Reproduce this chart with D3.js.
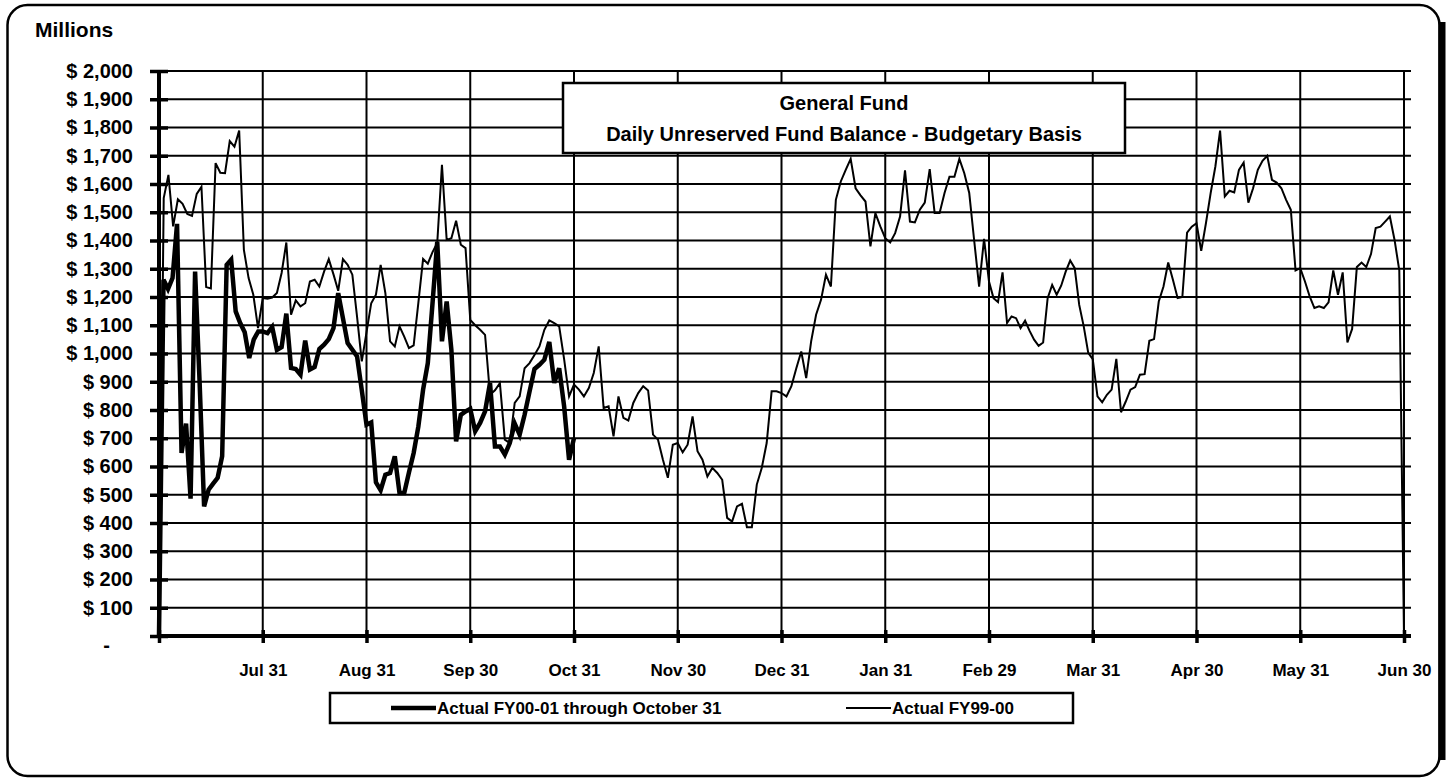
<!DOCTYPE html>
<html>
<head>
<meta charset="utf-8">
<script src="https://cdn.jsdelivr.net/npm/d3@7"></script>
<style>
  body { margin: 0; background: #fff; }
  svg { display: block; }
  text { font-family: "Liberation Sans", Arial, sans-serif; font-weight: bold; fill: #000; }
</style>
</head>
<body>
<svg id="chart" width="1447" height="781"></svg>
<script>
// month-end labels on the x axis
const monthLabels = ["Jul 31", "Aug 31", "Sep 30", "Oct 31", "Nov 30", "Dec 31",
                     "Jan 31", "Feb 29", "Mar 31", "Apr 30", "May 31", "Jun 30"];
const yTicks = [0, 100, 200, 300, 400, 500, 600, 700, 800, 900, 1000,
                1100, 1200, 1300, 1400, 1500, 1600, 1700, 1800, 1900, 2000];

// Actual FY99-00, daily balance ($ millions), one array per month
const openFY9900 = 0;
const fy9900Jul = [1550,1632,1450,1546,1530,1494,1487,1565,1590,1235,1230,1674,1640,1638,1752,1732,1789,1367,1267,1208,1090,1196];
const fy9900Aug = [1194,1198,1214,1285,1393,1137,1188,1167,1178,1255,1261,1237,1290,1334,1280,1222,1334,1314,1279,1130,972,1075];
const fy9900Sep = [1178,1208,1314,1214,1043,1025,1096,1060,1019,1029,1180,1335,1318,1359,1391,1668,1402,1408,1470,1385,1373,1119];
const fy9900Oct = [1100,1084,1066,854,870,895,695,683,825,848,948,966,995,1025,1084,1117,1108,1096,980,848,890];
const fy9900Nov = [872,848,878,931,1025,807,813,707,848,772,763,825,860,884,869,713,695,624,560,677,683];
const fy9900Dec = [650,677,777,654,624,565,595,577,553,418,405,459,468,385,385,536,595,683,866,866,860];
const fy9900Jan = [848,884,948,1007,913,1043,1137,1190,1279,1237,1544,1609,1650,1689,1585,1560,1538,1379,1497,1450,1408];
const fy9900Feb = [1393,1426,1485,1648,1467,1464,1509,1534,1653,1497,1497,1568,1626,1626,1689,1638,1568,1400,1237,1406,1255];
const fy9900Mar = [1196,1182,1287,1108,1131,1125,1090,1116,1080,1049,1027,1039,1196,1243,1208,1240,1290,1329,1302,1172,1096,1002,980];
const fy9900Apr = [848,827,854,872,981,792,830,872,881,925,927,1045,1051,1184,1237,1322,1261,1196,1200,1428,1449,1461];
const fy9900May = [1363,1461,1568,1662,1789,1556,1576,1570,1650,1676,1534,1585,1650,1682,1700,1615,1605,1585,1544,1509,1294,1302];
const fy9900Jun = [1255,1202,1161,1167,1161,1181,1294,1208,1287,1039,1087,1306,1322,1306,1352,1444,1449,1467,1485,1402,1294,0];

// Actual FY00-01 through October 31
const openFY0001 = 0;
const fy0001Jul = [1261,1228,1267,1459,648,752,486,1290,900,459,518,539,560,636,1314,1332,1149,1108,1075,984,1049,1078,1078];
const fy0001Aug = [1072,1094,1013,1023,1141,949,945,925,1046,943,952,1016,1031,1051,1090,1214,1125,1037,1013,990,870,748];
const fy0001Sep = [756,544,516,571,577,636,506,506,579,648,742,872,966,1178,1396,1043,1184,1013,689,783,795,804];
const fy0001Oct = [725,754,795,896,671,671,642,683,752,713,783,865,945,960,978,1041,896,948,813,624,701];

const titleLines = ["General Fund", "Daily Unreserved Fund Balance - Budgetary Basis"];
const legendLabels = ["Actual FY00-01 through October 31", "Actual FY99-00"];

// spread each month's values across its slot, last value on the month-end tick
function toPoints(opening, monthArrays) {
    let pts = [[0, opening]];
    monthArrays.forEach(function(vals, m) {
        vals.forEach(function(v, i) { pts.push([m + (i + 1) / vals.length, v]); });
    });
    return pts;
}

const thinPts = toPoints(openFY9900, [fy9900Jul, fy9900Aug, fy9900Sep, fy9900Oct, fy9900Nov, fy9900Dec,
                                     fy9900Jan, fy9900Feb, fy9900Mar, fy9900Apr, fy9900May, fy9900Jun]);
const thickPts = toPoints(openFY0001, [fy0001Jul, fy0001Aug, fy0001Sep, fy0001Oct]);

let svg = d3.select("#chart");

let plotLeft = 159, plotRight = 1404, gridRight = 1411, plotTop = 71, plotBottom = 636;

let x = d3.scaleLinear().domain([0, 12]).range([plotLeft, plotRight]);
let y = d3.scaleLinear().domain([0, 2000]).range([plotBottom, plotTop]);

// outer frame with heavier right edge
svg.append("rect")
    .attr("x", 7.5).attr("y", 5).attr("width", 1432).attr("height", 771)
    .attr("rx", 20).attr("fill", "#fff").attr("stroke", "#000").attr("stroke-width", 2.5);
svg.append("line")
    .attr("x1", 1442).attr("x2", 1442).attr("y1", 22).attr("y2", 760)
    .attr("stroke", "#000").attr("stroke-width", 7);

svg.append("text").attr("x", 35).attr("y", 37).style("font-size", "21px").text("Millions");

// horizontal grid
svg.append("g").selectAll("line").data(yTicks).enter().append("line")
    .attr("x1", plotLeft).attr("x2", gridRight)
    .attr("y1", d => y(d)).attr("y2", d => y(d))
    .attr("stroke", "#000").attr("stroke-width", 2);

// vertical grid at month ends
svg.append("g").selectAll("line").data(d3.range(1, 13)).enter().append("line")
    .attr("x1", d => x(d)).attr("x2", d => x(d))
    .attr("y1", plotTop).attr("y2", plotBottom)
    .attr("stroke", "#000").attr("stroke-width", 2);

// y axis with ticks crossing the axis line
let yAxis = svg.append("g").attr("transform", "translate(" + plotLeft + ",0)")
    .call(d3.axisLeft(y).tickValues(yTicks).tickSize(9).tickPadding(17)
        .tickFormat(d => d === 0 ? "" : "$ " + d3.format(",")(d)));
yAxis.select(".domain").remove();
yAxis.selectAll(".tick line").attr("x1", 9).attr("stroke", "#000").attr("stroke-width", 3.5);
yAxis.selectAll(".tick text").style("font-size", "20px").style("font-family", null);
svg.append("line").attr("x1", plotLeft).attr("x2", plotLeft).attr("y1", plotTop - 1).attr("y2", plotBottom)
    .attr("stroke", "#000").attr("stroke-width", 4);
svg.append("text").attr("x", 110).attr("y", y(0) + 9).attr("dy", "0.35em")
    .attr("text-anchor", "end").style("font-size", "20px").text("-");

// x axis
let xAxis = svg.append("g").attr("transform", "translate(0," + plotBottom + ")")
    .call(d3.axisBottom(x).tickValues(d3.range(0, 13)).tickSize(7).tickPadding(21)
        .tickFormat(d => d === 0 ? "" : monthLabels[d - 1]));
xAxis.select(".domain").remove();
xAxis.selectAll(".tick line").attr("y1", -6).attr("stroke", "#000").attr("stroke-width", 3.5);
xAxis.selectAll(".tick text").style("font-size", "17px").style("font-family", null);
svg.append("line").attr("x1", plotLeft).attr("x2", gridRight).attr("y1", plotBottom).attr("y2", plotBottom)
    .attr("stroke", "#000").attr("stroke-width", 4);

// title box
svg.append("rect").attr("x", 563).attr("y", 83).attr("width", 562).attr("height", 70)
    .attr("fill", "#fff").attr("stroke", "#000").attr("stroke-width", 2.5);
svg.selectAll(".title").data(titleLines).enter().append("text")
    .attr("class", "title").attr("x", 844).attr("y", (d, i) => 110 + i * 31)
    .attr("text-anchor", "middle").style("font-size", "20px").text(d => d);

// series
let line = d3.line().x(d => x(d[0])).y(d => y(d[1]));
svg.append("path").datum(thinPts).attr("d", line)
    .attr("fill", "none").attr("stroke", "#000").attr("stroke-width", 2);
svg.append("path").datum(thickPts).attr("d", line)
    .attr("fill", "none").attr("stroke", "#000").attr("stroke-width", 4.5);

// legend
let legend = svg.append("g");
legend.append("rect").attr("x", 330).attr("y", 693).attr("width", 743).attr("height", 30)
    .attr("fill", "#fff").attr("stroke", "#000").attr("stroke-width", 2.5);
let legendItems = [{x: 391, w: 4.5}, {x: 846, w: 2}];
legendItems.forEach(function(item, i) {
    legend.append("line").attr("x1", item.x).attr("x2", item.x + 45)
        .attr("y1", 708).attr("y2", 708).attr("stroke", "#000").attr("stroke-width", item.w);
    legend.append("text").attr("x", item.x + 46).attr("y", 708).attr("dy", "0.35em")
        .style("font-size", "17px").text(legendLabels[i]);
});
</script>
</body>
</html>
